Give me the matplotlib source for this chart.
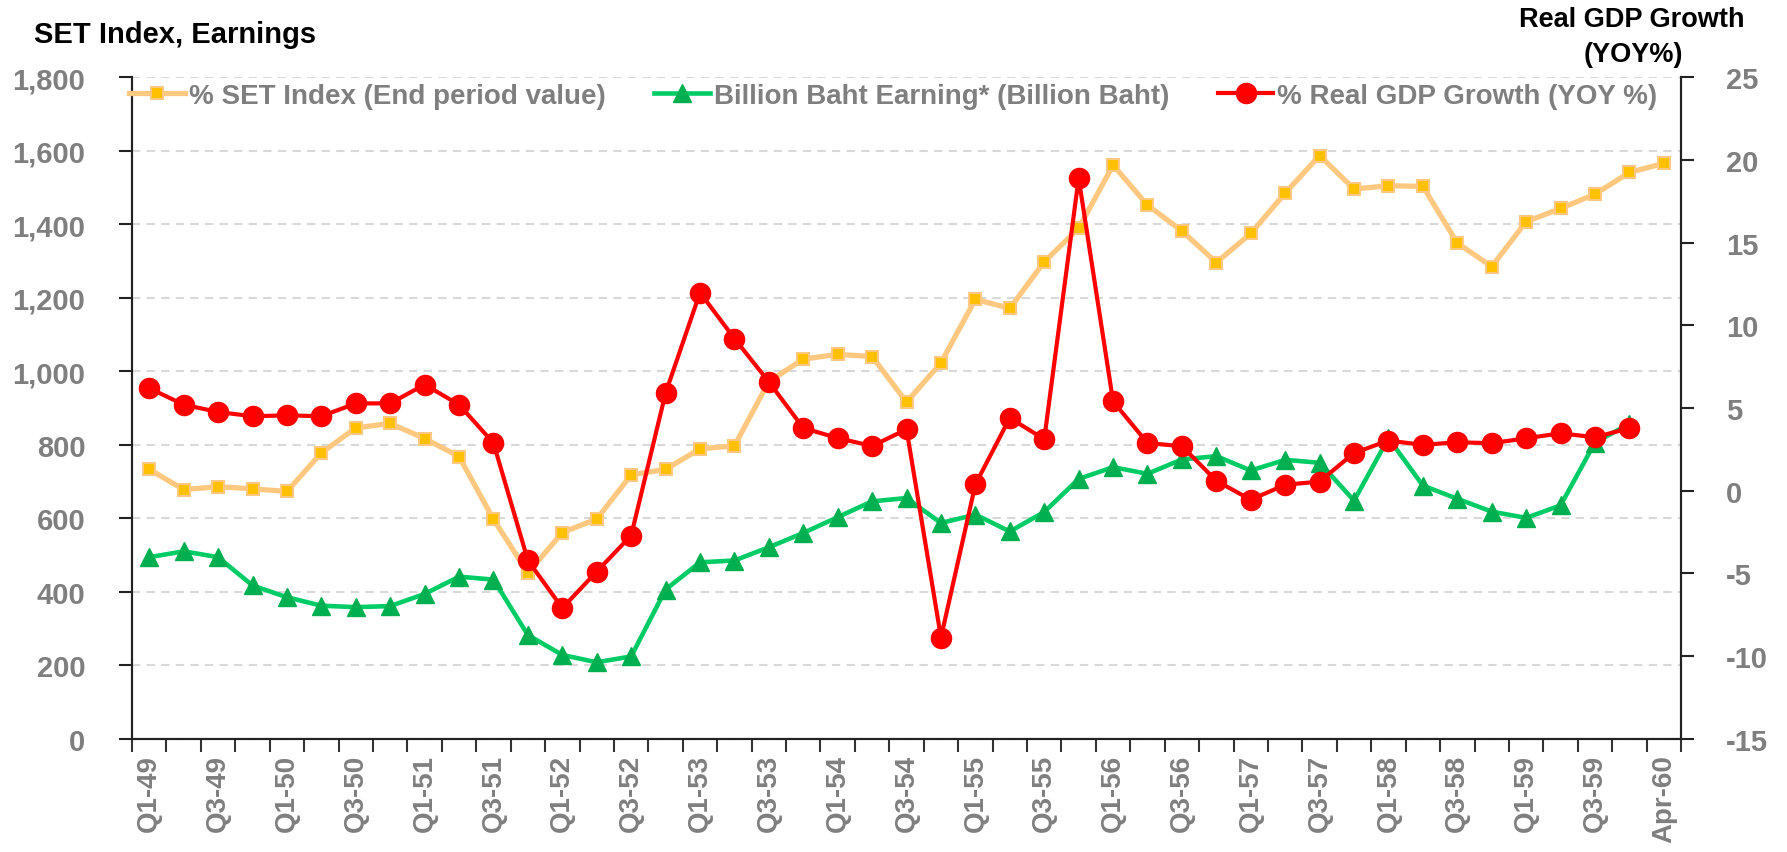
import matplotlib
matplotlib.use("Agg")
import matplotlib.pyplot as plt
import numpy as np

plt.rcParams['font.family'] = ['Liberation Sans', 'DejaVu Sans']
plt.rcParams['font.weight'] = 'bold'

categories = ["Q1-49", "Q2-49", "Q3-49", "Q4-49", "Q1-50", "Q2-50", "Q3-50", "Q4-50",
              "Q1-51", "Q2-51", "Q3-51", "Q4-51", "Q1-52", "Q2-52", "Q3-52", "Q4-52",
              "Q1-53", "Q2-53", "Q3-53", "Q4-53", "Q1-54", "Q2-54", "Q3-54", "Q4-54",
              "Q1-55", "Q2-55", "Q3-55", "Q4-55", "Q1-56", "Q2-56", "Q3-56", "Q4-56",
              "Q1-57", "Q2-57", "Q3-57", "Q4-57", "Q1-58", "Q2-58", "Q3-58", "Q4-58",
              "Q1-59", "Q2-59", "Q3-59", "Q4-59", "Apr-60"]

set_index = [733, 678, 686, 680, 673, 778, 846, 858, 817, 768,
             597, 451, 561, 598, 718, 733, 789, 797, 972, 1033,
             1046, 1040, 916, 1023, 1196, 1171, 1298, 1389, 1561, 1452,
             1382, 1296, 1375, 1485, 1587, 1496, 1505, 1503, 1349, 1285,
             1407, 1443, 1482, 1541, 1566]

earnings = [494, 510, 494, 417, 385, 362, 358, 361, 394, 441,
            433, 282, 228, 208, 224, 406, 480, 485, 521, 560,
            603, 646, 655, 587, 610, 564, 617, 707, 739, 721,
            760, 769, 730, 759, 751, 648, 818, 689, 653, 618,
            601, 635, 806, 857]

gdp_growth = [6.2, 5.2, 4.76, 4.5, 4.56, 4.5, 5.28, 5.28, 6.42, 5.2,
              2.88, -4.22, -7.1, -4.89, -2.71, 5.91, 11.98, 9.2, 6.58, 3.79,
              3.18, 2.7, 3.71, -8.88, 0.38, 4.4, 3.11, 18.9, 5.4, 2.88,
              2.69, 0.6, -0.55, 0.36, 0.55, 2.28, 3.03, 2.77, 2.93, 2.87,
              3.17, 3.47, 3.23, 3.78]

left_ticks = [0, 200, 400, 600, 800, 1000, 1200, 1400, 1600, 1800]
right_ticks = [-15, -10, -5, 0, 5, 10, 15, 20, 25]

GRAY = '#7F7F7F'
fig = plt.figure(figsize=(17.87, 8.53), dpi=100)
ax = fig.add_axes([0.0739, 0.1328, 0.9407 - 0.0739, 0.9082 - 0.1328])
ax2 = ax.twinx()

x_set = np.arange(len(set_index))
x_earn = np.arange(len(earnings))
x_gdp = np.arange(len(gdp_growth))

l1, = ax.plot(x_set, set_index, color='#FFC880', lw=3.8, marker='s', ms=8,
              mfc='#FFC000', mec='#FFC880', mew=1.5,
              label='% SET Index (End period value)', zorder=3)
l2, = ax.plot(x_earn, earnings, color='#00CC66', lw=3.3, marker='^', ms=12.5,
              mfc='#00B050', mec='#00B050', mew=1,
              label='Billion Baht Earning* (Billion Baht)', zorder=4)
l3, = ax2.plot(x_gdp, gdp_growth, color='#FF0000', lw=3, marker='o', ms=14.5,
               mfc='#FF0000', mec='#FF0000',
               label='% Real GDP Growth (YOY %)', zorder=5)

ax.set_xlim(-0.5, len(categories) - 0.5)
ax.set_ylim(0, 1800)
ax2.set_ylim(-15, 25)

ax.set_yticks(left_ticks)
ax.set_yticklabels([f"{v:,}" for v in left_ticks])
ax2.set_yticks(right_ticks)
ax2.set_yticklabels([str(v) for v in right_ticks])

ax.yaxis.grid(True, color='#D9D9D9', linestyle=(0, (4, 3)), lw=1.5)
ax.set_axisbelow(True)

# x ticks: boundaries as major ticks, labels at every other category
ax.set_xticks(np.arange(-0.5, len(categories), 1.0))
ax.set_xticklabels([])
lab_pos = list(range(0, len(categories), 2))
ax.set_xticks(lab_pos, minor=True)
ax.set_xticklabels([categories[i] for i in lab_pos], minor=True, rotation=90,
                   fontsize=20, color=GRAY, fontweight='bold')
ax.tick_params(axis='x', which='major', direction='out', length=9, width=1.5, color='#333333')
ax.tick_params(axis='x', which='minor', length=0, pad=11)

ax.tick_params(axis='y', direction='out', length=9.6, width=1.5, color='#222222',
               labelsize=21, labelcolor=GRAY, pad=24)
ax2.tick_params(axis='y', direction='out', length=9.6, width=1.5, color='#222222',
                labelsize=21, labelcolor=GRAY, pad=23)
for a in (ax, ax2):
    a.spines['top'].set_visible(False)
    for s in ('left', 'right', 'bottom'):
        a.spines[s].set_linewidth(1.5)
        a.spines[s].set_color('#222222')
    for lab in a.get_yticklabels():
        lab.set_fontweight('bold')

leg = ax2.legend(handles=[l1, l2, l3], loc='center left', bbox_to_anchor=(-0.002, 0.972),
                 ncol=3, frameon=False, fontsize=20, borderpad=0, handlelength=2.0,
                 handletextpad=0.15, columnspacing=1.75, borderaxespad=0)
for t in leg.get_texts():
    t.set_color(GRAY)
    t.set_fontweight('bold')

fig.text(34 / 1787, 1 - 42.7 / 853, 'SET Index, Earnings', fontsize=21, fontweight='bold',
         color='black', ha='left', va='baseline')
fig.text(0.913, 1 - 26.7 / 853, 'Real GDP Growth', fontsize=19.5, fontweight='bold',
         color='black', ha='center', va='baseline')
fig.text(0.914, 1 - 61.7 / 853, '(YOY%)', fontsize=19.5, fontweight='bold',
         color='black', ha='center', va='baseline')

fig.savefig('out.png', dpi=100, facecolor='white')
